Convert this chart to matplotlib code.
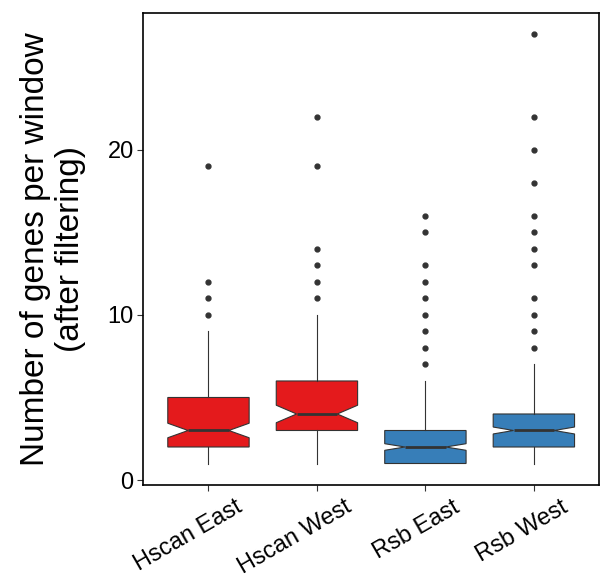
import matplotlib
matplotlib.use("Agg")
import matplotlib.pyplot as plt
from matplotlib.transforms import ScaledTranslation

plt.rcParams['font.family'] = ['Liberation Sans', 'DejaVu Sans']

# values
groups = ['Hscan East', 'Hscan West', 'Rsb East', 'Rsb West']
q1 = [2, 3, 1, 2]
med = [3, 4, 2, 3]
q3 = [5, 6, 3, 4]
whis_lo = [1, 1, 1, 1]
whis_hi = [9, 10, 6, 7]
ci_lo = [2.56, 3.47, 1.80, 2.79]
ci_hi = [3.44, 4.53, 2.20, 3.21]
outliers = [
    [10, 11, 12, 19],
    [11, 12, 13, 14, 19, 22],
    [7, 8, 9, 10, 11, 12, 13, 15, 16],
    [8, 9, 10, 11, 13, 14, 15, 16, 18, 20, 22, 27],
]
fill = ['#E41A1C', '#E41A1C', '#377EB8', '#377EB8']

stats = []
for i, g in enumerate(groups):
    stats.append(dict(label=g, q1=q1[i], med=med[i], q3=q3[i],
                      whislo=whis_lo[i], whishi=whis_hi[i],
                      cilo=ci_lo[i], cihi=ci_hi[i], fliers=outliers[i]))

fig = plt.figure(figsize=(6.05, 5.85), dpi=100)
ax = fig.add_axes([0.237, 0.171, 0.753, 0.807])

pos = list(range(1, len(groups) + 1))
bp = ax.bxp(stats, positions=pos, widths=0.75, shownotches=True,
            patch_artist=True, showcaps=False,
            boxprops=dict(edgecolor='#333333', linewidth=0.8),
            whiskerprops=dict(color='#333333', linewidth=0.8),
            medianprops=dict(color='#333333', linewidth=2.0),
            flierprops=dict(marker='o', markerfacecolor='#333333',
                            markeredgecolor='#333333', markersize=3.5))
for patch, c in zip(bp['boxes'], fill):
    patch.set_facecolor(c)

ax.set_xlim(0.4, 4.6)
ax.set_ylim(-0.3, 28.3)
ax.set_yticks([0, 10, 20])
ax.set_xticks(pos)
ax.set_xticklabels(groups, rotation=30, ha='right', va='top',
                   rotation_mode='anchor')
ax.tick_params(axis='both', labelsize=17, length=4, width=0.8,
               color='#333333', labelcolor='black', pad=3)
ax.tick_params(axis='x', pad=4)
shift = ScaledTranslation(27 / 100, 0, fig.dpi_scale_trans)
for lab in ax.get_xticklabels():
    lab.set_transform(lab.get_transform() + shift)
for s in ax.spines.values():
    s.set_linewidth(1.2)
    s.set_color('black')

ax.set_ylabel('Number of genes per window\n(after filtering)', fontsize=24,
              linespacing=1.2)
ax.yaxis.set_label_coords(-0.125, 0.5)

fig.savefig('out.png', dpi=100)
